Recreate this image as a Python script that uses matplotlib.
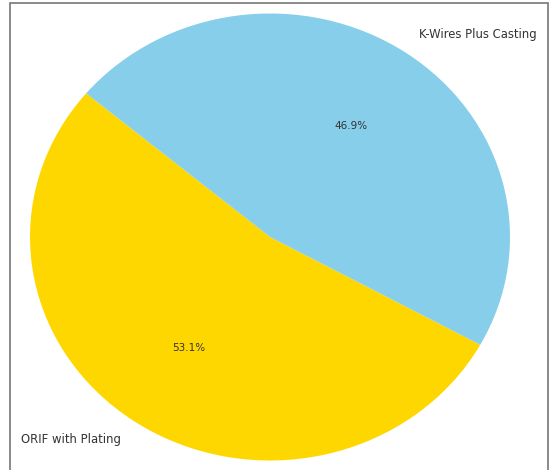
"""Pie chart: fixation methods."""

import matplotlib.pyplot as plt
from matplotlib.patches import Rectangle

labels = ["ORIF with Plating", "K-Wires Plus Casting"]
shares = [53.1, 46.9]
colors = ["#FFD700", "#87CEEB"]

fig = plt.figure(figsize=(5.5, 4.7), dpi=100)
ax = fig.add_axes([0, 0, 1, 1])

wedges, texts, autotexts = ax.pie(
    shares,
    labels=labels,
    colors=colors,
    autopct="%1.1f%%",
    startangle=140,
    textprops={"color": "#333333"},
)
for t in texts:
    t.set_fontsize(8.4)
for t in autotexts:
    t.set_fontsize(7.5)

# pie is slightly stretched horizontally in the original
ax.set_xlim(-270 / 240, 280 / 240)
ax.set_ylim(-233 / 223.5, 237 / 223.5)
ax.set_aspect("auto")
ax.axis("off")

# grey frame around the picture
fig.patches.append(Rectangle((10 / 550, -0.01), 538 / 550, 1 - 3 / 470 + 0.01,
                             transform=fig.transFigure, fill=False,
                             edgecolor="#777777", linewidth=1.2))

fig.savefig("out.png", dpi=100)
plt.close(fig)
